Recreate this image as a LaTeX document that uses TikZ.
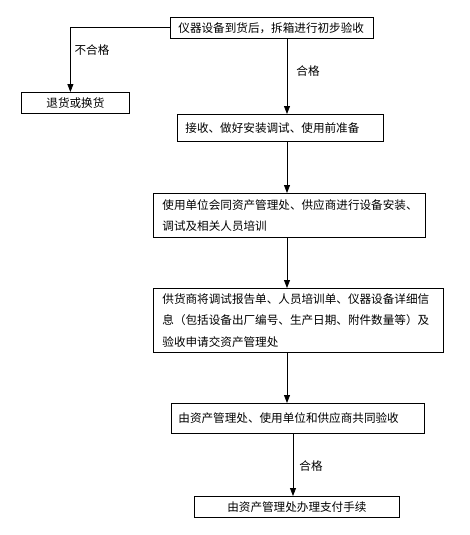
\documentclass[tikz,border=0pt]{standalone}
\usepackage{fontspec}
\setmainfont{Noto Sans CJK SC}
\usetikzlibrary{arrows.meta}

\tikzset{
  flowbox/.style={draw, line width=0.8pt, anchor=north west, align=left, inner xsep=8pt, inner ysep=0pt,
    font=\fontsize{11.6}{21.5}\selectfont},
  flowline/.style={line width=0.8pt, -{Triangle[width=6pt,length=8pt]}},
  flowlabel/.style={font=\fontsize{11.6}{14}\selectfont, inner sep=0pt}
}

\begin{document}
\begin{tikzpicture}[x=1pt,y=1pt,yscale=-1,xscale=1]
\useasboundingbox (0,0) rectangle (470,535);

% Text Node
\node[flowbox, text width=187pt, minimum height=21pt] (b1) at (170,17) {仪器设备到货后，拆箱进行初步验收};
% Text Node
\node[flowbox, align=center, text width=92pt, minimum height=21pt] (b0) at (21,92) {退货或换货};
% Text Node
\node[flowbox, text width=190pt, minimum height=27pt] (b2) at (177,114) {接收、做好安装调试、使用前准备};
% Text Node
\node[flowbox, inner xsep=9pt, text width=254pt, minimum height=44pt] (b3) at (153,193) {使用单位会同资产管理处、供应商进行设备安装、\\调试及相关人员培训};
% Text Node
\node[flowbox, inner xsep=9pt, text width=272pt, minimum height=64pt] (b4) at (153,288) {供货商将调试报告单、人员培训单、仪器设备详细信\\息（包括设备出厂编号、生产日期、附件数量等）及\\验收申请交资产管理处};
% Text Node
\node[flowbox, inner xsep=7pt, text width=239pt, minimum height=30pt] (b5) at (171,403) {由资产管理处、使用单位和供应商共同验收};
% Text Node
\node[flowbox, align=center, text width=189pt, minimum height=21pt] (b6) at (194,496) {由资产管理处办理支付手续};

% Text Node
\node[flowlabel] (l0) at (92,50) {不合格};
% Text Node
\node[flowlabel] (l1) at (308,71) {合格};
% Text Node
\node[flowlabel] (l2) at (311,466) {合格};

\coordinate (col) at (287,0);
\coordinate (col2) at (293,0);

% Connection
\draw[flowline] (b1.west) -| ([xshift=-5pt]b0.north);
% Connection
\draw[flowline] (b1.south -| col) -- (b2.north -| col);
% Connection
\draw[flowline] (b2.south -| col) -- (b3.north -| col);
% Connection
\draw[flowline] (b3.south -| col) -- (b4.north -| col);
% Connection
\draw[flowline] (b4.south -| col) -- (b5.north -| col);
% Connection
\draw[flowline] (b5.south -| col2) -- (b6.north -| col2);

\end{tikzpicture}
\end{document}
